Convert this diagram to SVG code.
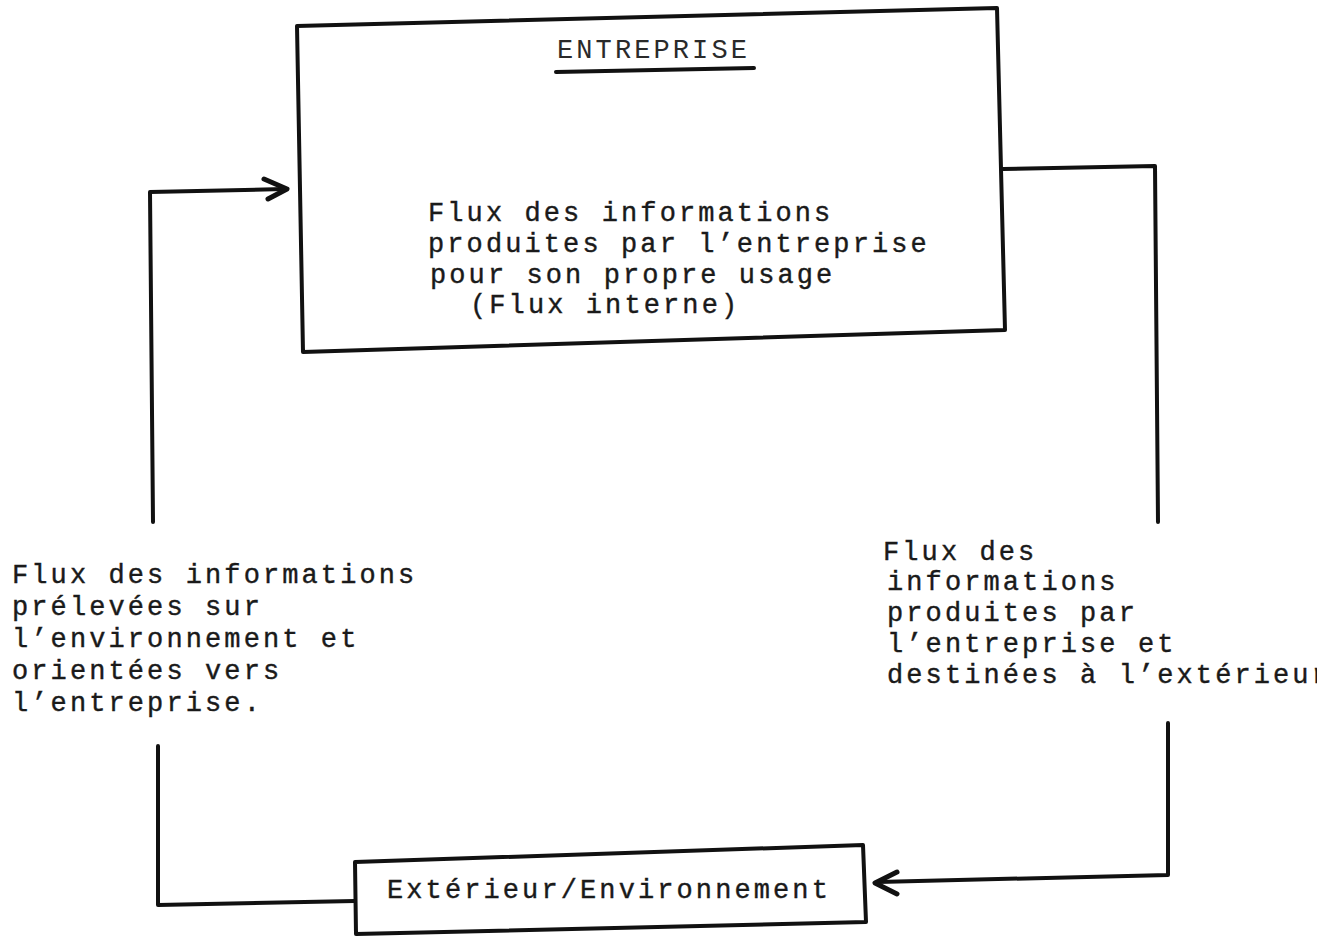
<svg xmlns="http://www.w3.org/2000/svg" width="1317" height="938" viewBox="0 0 1317 938">
  <style>
    .box { fill: none; stroke: #111; stroke-width: 4; stroke-linejoin: round; }
    .wire { fill: none; stroke: #111; stroke-width: 4; stroke-linecap: round; stroke-linejoin: round; }
    .head { fill: none; stroke: #111; stroke-width: 5; stroke-linecap: round; stroke-linejoin: round; }
    .t { font-family: "Liberation Mono", "DejaVu Sans Mono", monospace; font-size: 27px; letter-spacing: 3.1px; fill: #1a1a1a; stroke: #1a1a1a; stroke-width: 0.4; }
    .title { font-family: "Liberation Mono", "DejaVu Sans Mono", monospace; font-size: 27px; letter-spacing: 3.1px; fill: #2a2a2a; }
  </style>

  <!-- company box -->
  <g id="entreprise">
    <polygon class="box" points="297,26 997,8 1005,330 303,352"/>
    <text class="title" x="557" y="58">ENTREPRISE</text>
    <path class="wire" d="M556,72 L754,68"/>
    <text class="t" x="428" y="221">Flux des informations</text>
    <text class="t" x="428" y="252">produites par l’entreprise</text>
    <text class="t" x="430" y="283">pour son propre usage</text>
    <text class="t" x="470" y="313">(Flux interne)</text>
  </g>

  <!-- outside / environment box -->
  <g id="exterieur">
    <polygon class="box" points="355,862 863,845 866,922 356,934"/>
    <text class="t" x="387" y="898">Extérieur/Environnement</text>
  </g>

  <!-- incoming flow label -->
  <g id="flux-entrant">
    <text class="t" x="12" y="583">Flux des informations</text>
    <text class="t" x="12" y="615">prélevées sur</text>
    <text class="t" x="12" y="647">l’environnement et</text>
    <text class="t" x="12" y="679">orientées vers</text>
    <text class="t" x="12" y="711">l’entreprise.</text>
  </g>

  <!-- outgoing flow label -->
  <g id="flux-sortant">
    <text class="t" x="883" y="560">Flux des</text>
    <text class="t" x="887" y="590">informations</text>
    <text class="t" x="887" y="621">produites par</text>
    <text class="t" x="887" y="652">l’entreprise et</text>
    <text class="t" x="887" y="683">destinées à l’extérieur</text>
  </g>

  <!-- connectors -->
  <g id="connectors">
    <!-- environment to company -->
    <path class="wire" d="M158,746 L158,905 L355,901"/>
    <path class="wire" d="M153,522 L150,192 L284,189"/>
    <path class="head" d="M264,179 L287,189 L268,199"/>
    <!-- company to environment -->
    <path class="wire" d="M1003,169 L1155,166 L1158,522"/>
    <path class="wire" d="M1168,723 L1168,875 L878,882"/>
    <path class="head" d="M897,872 L875,883 L897,894"/>
  </g>
</svg>
